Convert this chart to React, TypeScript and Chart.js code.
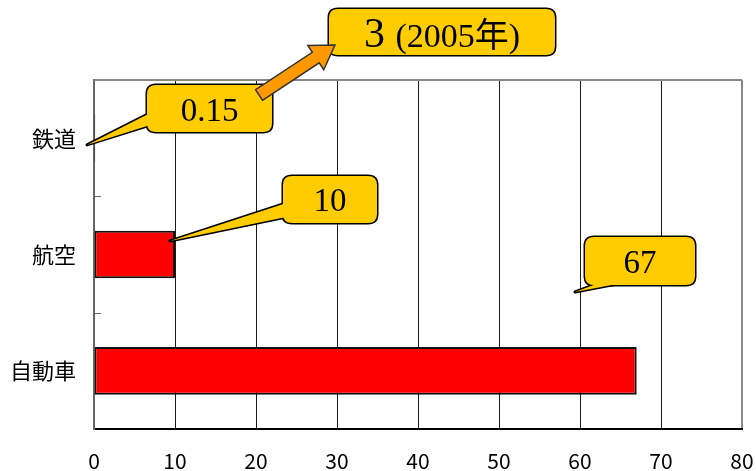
import React, { useEffect, useRef } from "react";
import { Chart, registerables } from "chart.js";

Chart.register(...registerables);

// Modal share by transport mode
const categories = ["鉄道", "航空", "自動車"];
const shares = [0.15, 10, 67];
const xMin = 0;
const xMax = 80;
const xStep = 10;
const railNoteValue = "3";
const railNoteYear = "(2005年)";

// Callout geometry in data units: x = value axis, y = category index (0 = top row)
type Pt = [number, number];
interface Callout {
  index: number;
  box: [number, number, number, number];
  tip: Pt;
  base: [Pt, Pt];
}
const callouts: Callout[] = [
  { index: 0, box: [6.54, -0.457, 21.98, -0.053], tip: [-0.86, 0.058], base: [[6.95, -0.217], [6.95, -0.113]] },
  { index: 1, box: [23.33, 0.325, 34.94, 0.729], tip: [9.38, 0.884], base: [[23.75, 0.557], [23.75, 0.677]] },
  { index: 2, box: [60.62, 0.849, 74.2, 1.262], tip: [59.38, 1.322], base: [[62.84, 1.232], [66.17, 1.232]] },
];
const noteBox: [number, number, number, number] = [29.01, -1.111, 56.91, -0.715];
const arrowTail: Pt = [20.37, -0.371];
const arrowTip: Pt = [29.75, -0.801];

const SERIF = "'Liberation Serif', 'Times New Roman', 'Noto Sans CJK JP', serif";
const GOTHIC = "'Noto Sans CJK JP', sans-serif";

function roundRectPath(ctx: CanvasRenderingContext2D, x1: number, y1: number, x2: number, y2: number, r: number) {
  ctx.moveTo(x1 + r, y1);
  ctx.lineTo(x2 - r, y1);
  ctx.quadraticCurveTo(x2, y1, x2, y1 + r);
  ctx.lineTo(x2, y2 - r);
  ctx.quadraticCurveTo(x2, y2, x2 - r, y2);
  ctx.lineTo(x1 + r, y2);
  ctx.quadraticCurveTo(x1, y2, x1, y2 - r);
  ctx.lineTo(x1, y1 + r);
  ctx.quadraticCurveTo(x1, y1, x1 + r, y1);
  ctx.closePath();
}

const calloutPlugin = {
  id: "callouts",
  beforeDatasetsDraw(chart: any) {
    const { ctx, chartArea, scales } = chart;
    const ys = scales.y;
    ctx.save();
    // frame on top and inward ticks on the category axis
    ctx.strokeStyle = "#888";
    ctx.lineWidth = 2;
    ctx.beginPath();
    ctx.moveTo(chartArea.left, chartArea.top);
    ctx.lineTo(chartArea.right, chartArea.top);
    ctx.stroke();
    const y0 = ys.getPixelForValue(0);
    const step = ys.getPixelForValue(1) - y0;
    ctx.strokeStyle = "#666";
    ctx.lineWidth = 1;
    for (let i = 0; i < categories.length - 1; i++) {
      const y = Math.round(y0 + (i + 0.5) * step) + 0.5;
      ctx.beginPath();
      ctx.moveTo(chartArea.left, y);
      ctx.lineTo(chartArea.left + 7, y);
      ctx.stroke();
    }
    ctx.restore();
  },
  afterDraw(chart: any) {
    const { ctx, scales } = chart;
    const xs = scales.x;
    const ys = scales.y;
    const y0 = ys.getPixelForValue(0);
    const step = ys.getPixelForValue(1) - y0;
    const P = (p: Pt): Pt => [xs.getPixelForValue(p[0]), y0 + p[1] * step];
    const yellow = "#FFCC00";

    ctx.save();
    ctx.lineJoin = "round";

    const drawBubble = (box: number[], tip?: Pt, base?: [Pt, Pt]) => {
      const [bx1, by1] = P([box[0], box[1]]);
      const [bx2, by2] = P([box[2], box[3]]);
      const shapes = (doFill: boolean) => {
        ctx.beginPath();
        roundRectPath(ctx, bx1, by1, bx2, by2, 9);
        if (doFill) ctx.fill(); else ctx.stroke();
        if (tip && base) {
          const t = P(tip), a = P(base[0]), b = P(base[1]);
          ctx.beginPath();
          ctx.moveTo(a[0], a[1]);
          ctx.lineTo(t[0], t[1]);
          ctx.lineTo(b[0], b[1]);
          ctx.closePath();
          if (doFill) ctx.fill(); else ctx.stroke();
        }
      };
      ctx.strokeStyle = "#000";
      ctx.lineWidth = 3;
      shapes(false);
      ctx.fillStyle = yellow;
      shapes(true);
      return [(bx1 + bx2) / 2, (by1 + by2) / 2];
    };

    // value callouts
    callouts.forEach((c) => {
      const [cx, cy] = drawBubble(c.box, c.tip, c.base);
      ctx.fillStyle = "#000";
      ctx.font = `33px ${SERIF}`;
      ctx.textAlign = "center";
      ctx.textBaseline = "alphabetic";
      ctx.fillText(String(shares[c.index]), cx, cy + 12);
    });

    // note box for 2005
    const [nx, ny] = drawBubble(noteBox);
    ctx.fillStyle = "#000";
    ctx.textAlign = "left";
    ctx.textBaseline = "alphabetic";
    const bigFont = `42px ${SERIF}`;
    const smallFont = `34px ${SERIF}`;
    ctx.font = bigFont;
    const w1 = ctx.measureText(railNoteValue + " ").width;
    ctx.font = smallFont;
    const w2 = ctx.measureText(railNoteYear).width;
    const startX = nx - (w1 + w2) / 2;
    ctx.font = bigFont;
    ctx.fillText(railNoteValue, startX, ny + 15);
    ctx.font = smallFont;
    ctx.fillText(railNoteYear, startX + w1, ny + 15);

    // arrow from the rail callout to the note
    const [tx, ty] = P(arrowTail);
    const [hx, hy] = P(arrowTip);
    const len = Math.hypot(hx - tx, hy - ty);
    const ux = (hx - tx) / len, uy = (hy - ty) / len;
    const nxv = -uy, nyv = ux;
    const shaftHalf = 6.3, headHalf = 14.5, headLen = 23;
    const bx = hx - ux * headLen, by = hy - uy * headLen;
    ctx.beginPath();
    ctx.moveTo(tx + nxv * shaftHalf, ty + nyv * shaftHalf);
    ctx.lineTo(bx + nxv * shaftHalf, by + nyv * shaftHalf);
    ctx.lineTo(bx + nxv * headHalf, by + nyv * headHalf);
    ctx.lineTo(hx, hy);
    ctx.lineTo(bx - nxv * headHalf, by - nyv * headHalf);
    ctx.lineTo(bx - nxv * shaftHalf, by - nyv * shaftHalf);
    ctx.lineTo(tx - nxv * shaftHalf, ty - nyv * shaftHalf);
    ctx.closePath();
    ctx.fillStyle = "#FF9900";
    ctx.fill();
    ctx.strokeStyle = "#333";
    ctx.lineWidth = 1.5;
    ctx.lineJoin = "miter";
    ctx.stroke();

    ctx.restore();
  },
};

export default function App() {
  const canvasRef = useRef<HTMLCanvasElement | null>(null);

  useEffect(() => {
    const canvas = canvasRef.current;
    if (!canvas) return;
    const chart = new Chart(canvas, {
      type: "bar",
      data: {
        labels: categories,
        datasets: [
          {
            data: shares,
            backgroundColor: "#FF0000",
            borderColor: "#111",
            borderWidth: 2,
            borderSkipped: false,
            barPercentage: 0.41,
            categoryPercentage: 1,
          },
        ],
      },
      options: {
        indexAxis: "y",
        responsive: false,
        animation: false,
        layout: { padding: { top: 80, right: 14, left: 0, bottom: 0 } },
        plugins: {
          legend: { display: false },
          tooltip: { enabled: false },
          title: { display: false },
        },
        scales: {
          x: {
            type: "linear",
            min: xMin,
            max: xMax,
            ticks: {
              stepSize: xStep,
              color: "#000",
              padding: 19,
              font: { family: GOTHIC, size: 21 },
            },
            grid: {
              drawTicks: false,
              color: (c: any) => (c.tick && c.tick.value === xMax ? "#888" : "#1a1a1a"),
              lineWidth: (c: any) => (c.tick && c.tick.value === xMax ? 2 : 1),
            },
            border: { display: true, color: "#000", width: 2 },
            afterFit: (s: any) => {
              s.height = 42;
              s.paddingLeft = 0;
              s.paddingRight = 0;
            },
          },
          y: {
            ticks: {
              color: "#000",
              padding: 18,
              font: { family: GOTHIC, size: 22 },
            },
            grid: { display: false, drawTicks: false },
            border: { display: true, color: "#666", width: 2 },
            afterFit: (s: any) => {
              s.width = 94;
              s.paddingTop = 0;
              s.paddingBottom = 0;
            },
          },
        },
      },
      plugins: [calloutPlugin],
    });
    return () => chart.destroy();
  }, []);

  return (
    <div style={{ position: "fixed", left: 0, top: 0, width: 756, height: 471, background: "#fff" }}>
      <canvas ref={canvasRef} width={756} height={471} />
    </div>
  );
}
